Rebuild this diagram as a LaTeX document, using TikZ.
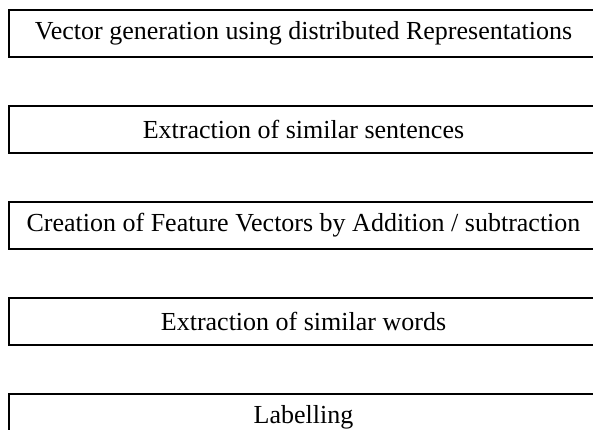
\documentclass[tikz,border=0pt]{standalone}
\usepackage{fontspec}
\setmainfont{Liberation Serif}
\usetikzlibrary{positioning}

\begin{document}
\begin{tikzpicture}[
		stepbox/.style={rectangle, draw=black, line width=1.6pt, minimum width=589pt,
			minimum height=47pt, inner sep=0pt, align=center, font=\fontsize{26}{30}\selectfont},
		]
		\useasboundingbox (0,0) rectangle (593pt,-430pt);
		\clip (0,0) rectangle (593pt,-430pt);

		% Blocks
		\node[stepbox] (vecgen) at (303.5pt,-33.5pt) {Vector generation using distributed Representations};
		\node[stepbox, below=47.4pt of vecgen] (simsent) {Extraction of similar sentences};
		\node[stepbox, below=47.4pt of simsent] (featvec) {Creation of Feature Vectors by Addition / subtraction};
		\node[stepbox, below=47.4pt of featvec] (simword) {Extraction of similar words};
		\node[stepbox, below=47.4pt of simword] (label) {Labelling};
	\end{tikzpicture}
\end{document}
